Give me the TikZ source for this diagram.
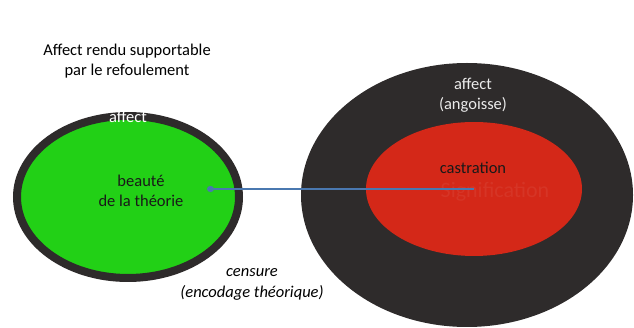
\documentclass[tikz,border=0pt]{standalone}
\usepackage{fontspec}
\setmainfont{Carlito}
\usetikzlibrary{shapes.geometric,arrows.meta}
\definecolor{darkring}{RGB}{46,43,43}
\definecolor{brightgreen}{RGB}{34,208,22}
\definecolor{redfill}{RGB}{212,40,24}
\definecolor{linkblue}{RGB}{74,120,176}
\tikzset{
  blob/.style={ellipse, inner sep=0pt},
  label15/.style={font=\fontsize{16.5}{19.5}\selectfont, align=center, inner sep=0pt},
}
\begin{document}
\begin{tikzpicture}[x=1pt,y=-1pt]
\useasboundingbox (0,0) rectangle (634,328);
% shapes
\node[blob, fill=darkring, minimum width=332pt, minimum height=264pt] (outer) at (467,195) {};
\node[blob, fill=redfill, minimum width=216pt, minimum height=134pt] (inner) at (474,189) {};
\node[blob, fill=brightgreen, draw=darkring, line width=8pt, minimum width=222pt, minimum height=162pt] (green) at (128,197) {};
% faint ghost text
\node[font=\fontsize{22}{24}\selectfont, text=redfill!94!white, inner sep=0pt] (ghost) at (495,192) {Signification};
% connector
\coordinate (tipend) at (207,189);
\draw[linkblue, line width=1.5pt, -{Circle[length=7pt,width=6pt]}] (inner.center) -- (tipend);
% texts
\node[label15] (title) at (127,61) {Affect rendu supportable\\par le refoulement};
\node[label15, text=white] (affL) at (128,117) {affect};
\node[label15, text=black!90] (beaute) at (141,191) {beauté\\de la théorie};
\node[label15, text=white!92!black] (affR) at (473,95) {affect\\(angoisse)};
\node[label15, text=black!90] (castr) at (473,168) {castration};
\node[label15, font=\fontsize{16.5}{21}\selectfont\itshape] (censure) at (252,284) {censure\\(encodage théorique)};
\end{tikzpicture}
\end{document}
